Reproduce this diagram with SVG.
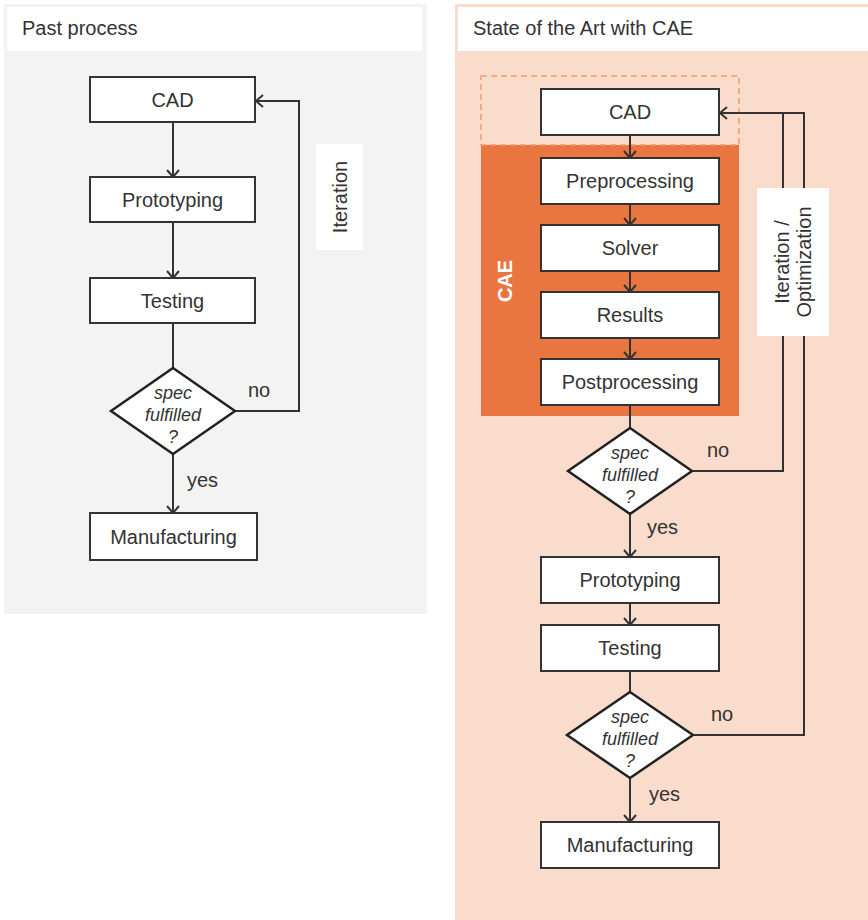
<svg xmlns="http://www.w3.org/2000/svg" width="868" height="920" viewBox="0 0 868 920">
  <defs>
    <marker id="chev" viewBox="-9 -8 11 16" refX="0" refY="0" markerWidth="11" markerHeight="16" markerUnits="userSpaceOnUse" orient="auto">
      <path d="M-7,-6 L0,0 L-7,6" fill="none" stroke="#333" stroke-width="2"/>
    </marker>
    <style>
      .box { fill: #fff; stroke: #333; stroke-width: 2; }
      .dia { fill: #fff; stroke: #222; stroke-width: 2.5; }
      .lbl { font-family: "Liberation Sans", Arial, sans-serif; font-size: 20px; fill: #333; text-anchor: middle; }
      .q { font-family: "Liberation Sans", Arial, sans-serif; font-size: 18px; font-style: italic; fill: #333; text-anchor: middle; }
      .note { font-family: "Liberation Sans", Arial, sans-serif; font-size: 20px; fill: #333; }
      .head { font-family: "Liberation Sans", Arial, sans-serif; font-size: 20px; fill: #333; }
      .conn { fill: none; stroke: #333; stroke-width: 2; }
      .arr { marker-end: url(#chev); }
    </style>
  </defs>

  <rect width="868" height="920" fill="#fff"/>

  <!-- Left panel: past process -->
  <g id="panel-past">
    <rect x="4" y="4" width="423" height="610" fill="#f3f3f3"/>
    <rect x="7" y="7" width="415" height="44" fill="#fff"/>
    <text class="head" x="22" y="35">Past process</text>
  </g>

  <!-- Right panel: state of the art with CAE -->
  <g id="panel-cae">
    <rect x="455" y="4" width="413" height="916" fill="#f9dccb"/>
    <rect x="458" y="7" width="410" height="44" fill="#fff"/>
    <text class="head" x="473" y="35">State of the Art with CAE</text>
    <rect x="481" y="145" width="258" height="271" fill="#e97641"/>
    <rect x="481" y="76" width="258" height="69" fill="none" stroke="#f29a6c" stroke-width="1.5" stroke-dasharray="6,4"/>
    <text transform="translate(512,281) rotate(-90)" text-anchor="middle" font-family="Liberation Sans, Arial, sans-serif" font-size="20" font-weight="bold" fill="#fff">CAE</text>
  </g>

  <!-- Connectors -->
  <g id="connectors">
    <!-- left chain -->
    <line class="conn arr" x1="173" y1="122" x2="173" y2="177"/>
    <line class="conn arr" x1="173" y1="222" x2="173" y2="278"/>
    <line class="conn" x1="173" y1="323" x2="173" y2="368"/>
    <line class="conn arr" x1="173" y1="454" x2="173" y2="513"/>
    <polyline class="conn arr" points="235,411 299,411 299,101 256,101"/>

    <!-- right chain -->
    <line class="conn arr" x1="630" y1="135" x2="630" y2="158"/>
    <line class="conn arr" x1="630" y1="204" x2="630" y2="225"/>
    <line class="conn arr" x1="630" y1="271" x2="630" y2="292"/>
    <line class="conn arr" x1="630" y1="338" x2="630" y2="359"/>
    <line class="conn" x1="630" y1="405" x2="630" y2="428"/>
    <line class="conn arr" x1="630" y1="514" x2="630" y2="557"/>
    <line class="conn arr" x1="630" y1="603" x2="630" y2="625"/>
    <line class="conn" x1="630" y1="671" x2="630" y2="692"/>
    <line class="conn arr" x1="630" y1="778" x2="630" y2="822"/>
    <polyline class="conn" points="692,471 783,471 783,113"/>
    <polyline class="conn arr" points="693,735 804,735 804,113 720,113"/>
  </g>

  <!-- Loop labels -->
  <g id="label-iteration">
    <rect x="316" y="144" width="47" height="106" fill="#fff"/>
    <text class="note" text-anchor="middle" transform="translate(347,197) rotate(-90)">Iteration</text>
  </g>
  <g id="label-iteration-optimization">
    <rect x="757" y="188" width="72" height="148" fill="#fff"/>
    <text class="note" text-anchor="middle" transform="translate(793,262) rotate(-90)"><tspan x="0" y="-4">Iteration /</tspan><tspan x="0" y="18">Optimization</tspan></text>
  </g>

  <!-- Left nodes -->
  <g id="l-cad"><rect class="box" x="90" y="77" width="165" height="45"/><text class="lbl" x="172.5" y="107">CAD</text></g>
  <g id="l-prototyping"><rect class="box" x="90" y="177" width="165" height="45"/><text class="lbl" x="172.5" y="207">Prototyping</text></g>
  <g id="l-testing"><rect class="box" x="90" y="278" width="165" height="45"/><text class="lbl" x="172.5" y="308">Testing</text></g>
  <g id="l-decision">
    <polygon class="dia" points="173,368 235,411 173,454 111,411"/>
    <text class="q" x="173" y="399">spec</text>
    <text class="q" x="173" y="421">fulfilled</text>
    <text class="q" x="173" y="443">?</text>
  </g>
  <g id="l-manufacturing"><rect class="box" x="90" y="513" width="167" height="47"/><text class="lbl" x="173.5" y="544">Manufacturing</text></g>
  <text class="note" x="248" y="397">no</text>
  <text class="note" x="187" y="487">yes</text>

  <!-- Right nodes -->
  <g id="r-cad"><rect class="box" x="541" y="89" width="178" height="46"/><text class="lbl" x="630" y="119">CAD</text></g>
  <g id="r-preprocessing"><rect class="box" x="541" y="158" width="178" height="46"/><text class="lbl" x="630" y="188">Preprocessing</text></g>
  <g id="r-solver"><rect class="box" x="541" y="225" width="178" height="46"/><text class="lbl" x="630" y="255">Solver</text></g>
  <g id="r-results"><rect class="box" x="541" y="292" width="178" height="46"/><text class="lbl" x="630" y="322">Results</text></g>
  <g id="r-postprocessing"><rect class="box" x="541" y="359" width="178" height="46"/><text class="lbl" x="630" y="389">Postprocessing</text></g>
  <g id="r-decision-1">
    <polygon class="dia" points="630,428 692,471 630,514 568,471"/>
    <text class="q" x="630" y="459">spec</text>
    <text class="q" x="630" y="481">fulfilled</text>
    <text class="q" x="630" y="503">?</text>
  </g>
  <g id="r-prototyping"><rect class="box" x="541" y="557" width="178" height="46"/><text class="lbl" x="630" y="587">Prototyping</text></g>
  <g id="r-testing"><rect class="box" x="541" y="625" width="178" height="46"/><text class="lbl" x="630" y="655">Testing</text></g>
  <g id="r-decision-2">
    <polygon class="dia" points="630,692 693,735 630,778 567,735"/>
    <text class="q" x="630" y="723">spec</text>
    <text class="q" x="630" y="745">fulfilled</text>
    <text class="q" x="630" y="767">?</text>
  </g>
  <g id="r-manufacturing"><rect class="box" x="541" y="822" width="178" height="46"/><text class="lbl" x="630" y="852">Manufacturing</text></g>
  <text class="note" x="707" y="457">no</text>
  <text class="note" x="647" y="534">yes</text>
  <text class="note" x="711" y="721">no</text>
  <text class="note" x="649" y="801">yes</text>
</svg>
